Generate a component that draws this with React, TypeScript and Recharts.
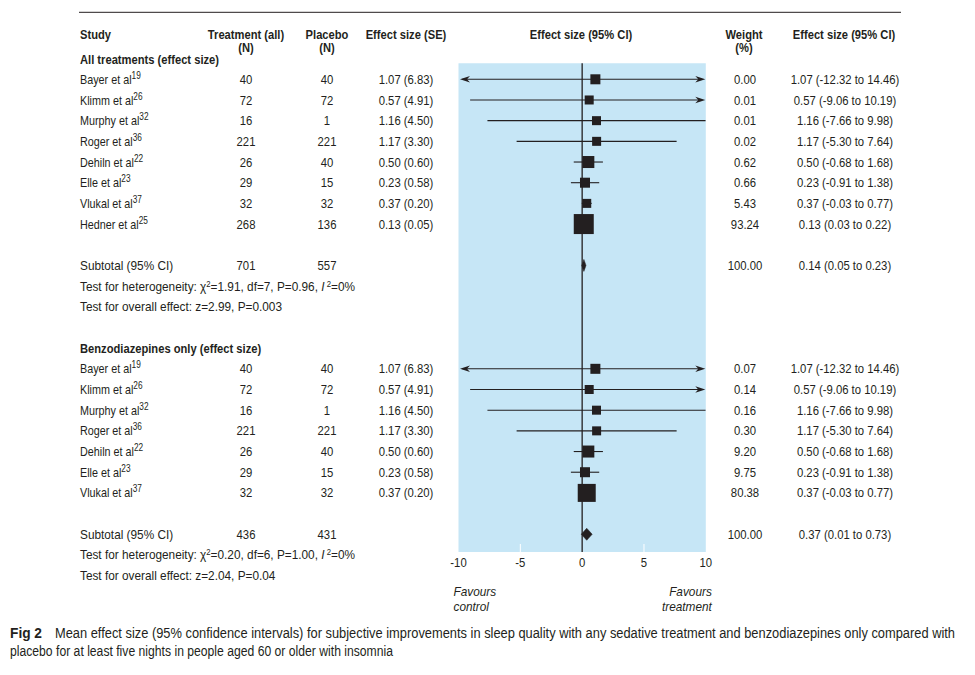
import React from 'react';
import { ScatterChart, Scatter, XAxis, YAxis, ReferenceArea, ReferenceLine } from 'recharts';

// ---------------- data ----------------
const allStudies = ['Bayer et al', 'Klimm et al', 'Murphy et al', 'Roger et al', 'Dehiln et al', 'Elle et al', 'Vlukal et al', 'Hedner et al'];
const allRefs = ['19', '26', '32', '36', '22', '23', '37', '25'];
const allTreatN = [40, 72, 16, 221, 26, 29, 32, 268];
const allPlaceboN = [40, 72, 1, 221, 40, 15, 32, 136];
const allEffect = [1.07, 0.57, 1.16, 1.17, 0.5, 0.23, 0.37, 0.13];
const allSE = [6.83, 4.91, 4.5, 3.3, 0.6, 0.58, 0.2, 0.05];
const allLow = [-12.32, -9.06, -7.66, -5.3, -0.68, -0.91, -0.03, 0.03];
const allHigh = [14.46, 10.19, 9.98, 7.64, 1.68, 1.38, 0.77, 0.22];
const allWeight = [0.0, 0.01, 0.01, 0.02, 0.62, 0.66, 5.43, 93.24];

const benzoStudies = ['Bayer et al', 'Klimm et al', 'Murphy et al', 'Roger et al', 'Dehiln et al', 'Elle et al', 'Vlukal et al'];
const benzoRefs = ['19', '26', '32', '36', '22', '23', '37'];
const benzoTreatN = [40, 72, 16, 221, 26, 29, 32];
const benzoPlaceboN = [40, 72, 1, 221, 40, 15, 32];
const benzoEffect = [1.07, 0.57, 1.16, 1.17, 0.5, 0.23, 0.37];
const benzoSE = [6.83, 4.91, 4.5, 3.3, 0.6, 0.58, 0.2];
const benzoLow = [-12.32, -9.06, -7.66, -5.3, -0.68, -0.91, -0.03];
const benzoHigh = [14.46, 10.19, 9.98, 7.64, 1.68, 1.38, 0.77];
const benzoWeight = [0.07, 0.14, 0.16, 0.3, 9.2, 9.75, 80.38];

const groupTitles = ['All treatments (effect size)', 'Benzodiazepines only (effect size)'];
const subtotalTreatN = [701, 436];
const subtotalPlaceboN = [557, 431];
const subtotalEffect = [0.14, 0.37];
const subtotalLow = [0.05, 0.01];
const subtotalHigh = [0.23, 0.73];
const subtotalWeight = [100.0, 100.0];
const hetChi2 = ['1.91', '0.20'];
const hetDf = [7, 6];
const hetP = ['0.96', '1.00'];
const hetI2 = [0, 0];
const overallZ = ['2.99', '2.04'];
const overallP = ['0.003', '0.04'];

const xTicks = [-10, -5, 0, 5, 10];
const xDomain = [-10, 10];

const captionLabel = 'Fig 2';
const captionLine1 = 'Mean effect size (95% confidence intervals) for subjective improvements in sleep quality with any sedative treatment and benzodiazepines only compared with';
const captionLine2 = 'placebo for at least five nights in people aged 60 or older with insomnia';

// ---------------- style ----------------
const FONT = "'Liberation Sans', Arial, sans-serif";
const INK = '#231f20';
const BLUE = '#c6e6f6';
const FS = 13;
const SX = 0.91; // horizontal condensing for running text
const SX_NUM = 0.87;
const SX_NAME = 0.83;
const SX_BOLD = 0.86;
const boxPxAll = [10, 9, 9, 9, 12, 10, 9, 20];
const boxPxBenzo = [10, 9, 9, 9, 12, 10, 18];

// layout in row units
const ROW_TOP = 79.3;
const ROW_STEP = 20.68;
const H = 675;
const yDomain = [-ROW_TOP / ROW_STEP, (H - ROW_TOP) / ROW_STEP];
const rowOf = (py: number) => (py - ROW_TOP) / ROW_STEP;

const COL = { study: 80, treat: 246, placebo: 327, effSE: 406, weight: 745, ci: 845, plotMid: 581 };

type Group = {
  names: string[]; refs: string[]; tn: number[]; pn: number[]; eff: number[]; se: number[];
  lo: number[]; hi: number[]; w: number[]; box: number[]; start: number;
};
const groups: Group[] = [
  { names: allStudies, refs: allRefs, tn: allTreatN, pn: allPlaceboN, eff: allEffect, se: allSE, lo: allLow, hi: allHigh, w: allWeight, box: boxPxAll, start: 0 },
  { names: benzoStudies, refs: benzoRefs, tn: benzoTreatN, pn: benzoPlaceboN, eff: benzoEffect, se: benzoSE, lo: benzoLow, hi: benzoHigh, w: benzoWeight, box: boxPxBenzo, start: 14 },
];

const f2 = (v: number) => v.toFixed(2);
const clamp = (v: number) => Math.max(xDomain[0], Math.min(xDomain[1], v));

// build mark tables
const squares: any[] = [];
const whiskers: any[] = [];
const textRows: any[] = [];
const diamonds: any[] = [];

groups.forEach((g, gi) => {
  if (gi === 1) textRows.push({ x: 0, y: g.start - 1, kind: 'title', gi });
  g.names.forEach((n, i) => {
    const row = g.start + i;
    squares.push({ x: g.eff[i], y: row, box: g.box[i] });
    whiskers.push({ lo: clamp(g.lo[i]), hi: clamp(g.hi[i]), y: row, arrowL: g.lo[i] < xDomain[0], arrowR: g.hi[i] > xDomain[1] });
    textRows.push({ x: 0, y: row, kind: 'study', gi, i });
  });
  const sub = g.start + g.names.length + 1;
  diamonds.push({ lo: subtotalLow[gi], hi: subtotalHigh[gi], y: sub });
  textRows.push({ x: 0, y: sub, kind: 'subtotal', gi });
  textRows.push({ x: 0, y: sub + 1, kind: 'het', gi });
  textRows.push({ x: 0, y: sub + 2, kind: 'overall', gi });
});
textRows.push({ x: 0, y: rowOf(12.3), kind: 'rule' });
textRows.push({ x: 0, y: rowOf(34.3), kind: 'head1' });
textRows.push({ x: 0, y: rowOf(47.5), kind: 'head2' });
textRows.push({ x: 0, y: rowOf(59.3), kind: 'title', gi: 0 });
xTicks.forEach((t) => textRows.push({ x: t, y: rowOf(562.7), kind: 'tick', t }));
textRows.push({ x: xDomain[0], y: rowOf(591.7), kind: 'fav', side: 'L', line: 'Favours' });
textRows.push({ x: xDomain[0], y: rowOf(606.2), kind: 'fav', side: 'L', line: 'control' });
textRows.push({ x: xDomain[1], y: rowOf(591.7), kind: 'fav', side: 'R', line: 'Favours' });
textRows.push({ x: xDomain[1], y: rowOf(606.2), kind: 'fav', side: 'R', line: 'treatment' });
textRows.push({ x: 0, y: rowOf(632.7), kind: 'cap1' });
textRows.push({ x: 0, y: rowOf(651.2), kind: 'cap2' });

const T = ({ x, y, sx = SX, children, ...rest }: any) => (
  <text
    transform={`translate(${x},${y}) scale(${sx},1)`}
    dy="0.35em"
    fontFamily={FONT}
    fontSize={FS}
    fill={INK}
    {...rest}
  >
    {children}
  </text>
);
const B = (p: any) => <T sx={SX_BOLD} fontWeight="bold" {...p} />;
const N = (p: any) => <T sx={SX_NUM} textAnchor="middle" {...p} />;

const renderText = (props: any) => {
  const { cx, cy, payload } = props;
  const k = payload.kind;
  if (k === 'rule') return <line x1={79} x2={901} y1={cy} y2={cy} stroke={INK} strokeWidth={1} />;
  if (k === 'head1')
    return (
      <g>
        <B x={COL.study} y={cy}>Study</B>
        <B x={COL.treat} y={cy} textAnchor="middle">Treatment (all)</B>
        <B x={COL.placebo} y={cy} textAnchor="middle">Placebo</B>
        <B x={COL.effSE} y={cy} textAnchor="middle">Effect size (SE)</B>
        <B x={COL.plotMid} y={cy} textAnchor="middle">Effect size (95% CI)</B>
        <B x={744} y={cy} textAnchor="middle">Weight</B>
        <B x={844} y={cy} textAnchor="middle">Effect size (95% CI)</B>
      </g>
    );
  if (k === 'head2')
    return (
      <g>
        <B x={COL.treat} y={cy} textAnchor="middle">(N)</B>
        <B x={COL.placebo} y={cy} textAnchor="middle">(N)</B>
        <B x={744} y={cy} textAnchor="middle">(%)</B>
      </g>
    );
  if (k === 'title') return <B x={COL.study} y={cy}>{groupTitles[payload.gi]}</B>;
  if (k === 'study') {
    const g = groups[payload.gi];
    const i = payload.i;
    return (
      <g>
        <T x={COL.study} y={cy} sx={SX_NAME}>
          {g.names[i]}
          <tspan dy={-5} fontSize={10}>{g.refs[i]}</tspan>
        </T>
        <N x={COL.treat} y={cy}>{g.tn[i]}</N>
        <N x={COL.placebo} y={cy}>{g.pn[i]}</N>
        <N x={COL.effSE} y={cy}>{`${f2(g.eff[i])} (${f2(g.se[i])})`}</N>
        <N x={COL.weight} y={cy}>{f2(g.w[i])}</N>
        <N x={COL.ci} y={cy}>{`${f2(g.eff[i])} (${f2(g.lo[i])} to ${f2(g.hi[i])})`}</N>
      </g>
    );
  }
  if (k === 'subtotal') {
    const gi = payload.gi;
    return (
      <g>
        <T x={COL.study} y={cy}>Subtotal (95% CI)</T>
        <N x={COL.treat} y={cy}>{subtotalTreatN[gi]}</N>
        <N x={COL.placebo} y={cy}>{subtotalPlaceboN[gi]}</N>
        <N x={COL.weight} y={cy}>{f2(subtotalWeight[gi])}</N>
        <N x={COL.ci} y={cy}>{`${f2(subtotalEffect[gi])} (${f2(subtotalLow[gi])} to ${f2(subtotalHigh[gi])})`}</N>
      </g>
    );
  }
  if (k === 'het') {
    const gi = payload.gi;
    return (
      <T x={COL.study} y={cy}>
        {'Test for heterogeneity: χ'}
        <tspan dy={-4} fontSize={8.5}>2</tspan>
        <tspan dy={4}>{`=${hetChi2[gi]}, df=${hetDf[gi]}, P=${hetP[gi]}, `}</tspan>
        <tspan fontStyle="italic">I</tspan>
        <tspan dy={-4} fontSize={8.5}>{' 2'}</tspan>
        <tspan dy={4}>{`=${hetI2[gi]}%`}</tspan>
      </T>
    );
  }
  if (k === 'overall') {
    const gi = payload.gi;
    return <T x={COL.study} y={cy}>{`Test for overall effect: z=${overallZ[gi]}, P=${overallP[gi]}`}</T>;
  }
  if (k === 'tick') return <N x={cx} y={cy}>{payload.t}</N>;
  if (k === 'fav')
    return (
      <T x={payload.side === 'L' ? cx - 5 : cx + 6} y={cy} textAnchor={payload.side === 'L' ? 'start' : 'end'} fontStyle="italic">
        {payload.line}
      </T>
    );
  if (k === 'cap1')
    return (
      <g>
        <text x={10} y={cy} dy="0.35em" fontFamily={FONT} fontSize={14} fontWeight="bold" fill={INK} textLength={32} lengthAdjust="spacingAndGlyphs">
          {captionLabel}
        </text>
        <text x={55} y={cy} dy="0.35em" fontFamily={FONT} fontSize={14} fill={INK} textLength={900} lengthAdjust="spacingAndGlyphs">
          {captionLine1}
        </text>
      </g>
    );
  if (k === 'cap2')
    return (
      <text x={10} y={cy} dy="0.35em" fontFamily={FONT} fontSize={14} fill={INK} textLength={383} lengthAdjust="spacingAndGlyphs">
        {captionLine2}
      </text>
    );
  return <g />;
};

const renderSquare = (props: any) => {
  const { cx, cy, payload } = props;
  const s = payload.box;
  return <rect x={cx - s / 2} y={cy - s / 2} width={s} height={s} fill={INK} />;
};

const whiskerShape = (w: any) => (p: any) => {
  const { x1, y1, x2 } = p;
  const y = y1;
  return (
    <g>
      <line x1={x1 + (w.arrowL ? 4 : 0)} x2={x2 - (w.arrowR ? 4 : 0)} y1={y} y2={y} stroke={INK} strokeWidth={1.1} />
      {w.arrowL && <polygon points={`${x1 + 1.5},${y} ${x1 + 11.5},${y - 3.2} ${x1 + 8.5},${y} ${x1 + 11.5},${y + 3.2}`} fill={INK} />}
      {w.arrowR && <polygon points={`${x2 - 0.5},${y} ${x2 - 10.5},${y - 3.2} ${x2 - 7.5},${y} ${x2 - 10.5},${y + 3.2}`} fill={INK} />}
    </g>
  );
};

const diamondShape = (p: any) => {
  const { x1, y1, x2 } = p;
  const m = (x1 + x2) / 2;
  const h = 6;
  return <polygon points={`${x1 - 1},${y1} ${m},${y1 - h} ${x2 + 1},${y1} ${m},${y1 + h}`} fill={INK} stroke={INK} strokeWidth={0.5} />;
};

export default function App() {
  return (
    <div style={{ position: 'absolute', left: 0, top: 0, width: 975, height: 675, background: '#fff' }}>
      <ScatterChart width={975} height={675} margin={{ top: 0, bottom: 0, left: 458.5, right: 269.2 }}>
        <XAxis type="number" dataKey="x" domain={xDomain} hide />
        <YAxis type="number" dataKey="y" domain={yDomain} reversed hide />
        <ReferenceArea x1={xDomain[0]} x2={xDomain[1]} y1={rowOf(63.3)} y2={rowOf(552)} fill={BLUE} fillOpacity={1} stroke="none" />
        {[-5, 5].map((t) => (
          <ReferenceLine key={t} segment={[{ x: t, y: rowOf(544) }, { x: t, y: rowOf(552) }]} stroke="#ffffff" strokeWidth={1} />
        ))}
        <ReferenceLine segment={[{ x: 0, y: rowOf(63.3) }, { x: 0, y: rowOf(552) }]} stroke={INK} strokeWidth={1.3} />
        {whiskers.map((w, i) => (
          <ReferenceLine key={'w' + i} segment={[{ x: w.lo, y: w.y }, { x: w.hi, y: w.y }]} shape={whiskerShape(w)} />
        ))}
        {diamonds.map((d, i) => (
          <ReferenceLine key={'d' + i} segment={[{ x: d.lo, y: d.y }, { x: d.hi, y: d.y }]} shape={diamondShape} />
        ))}
        <Scatter data={squares} shape={renderSquare} isAnimationActive={false} />
        <Scatter data={textRows} shape={renderText} isAnimationActive={false} />
      </ScatterChart>
    </div>
  );
}
